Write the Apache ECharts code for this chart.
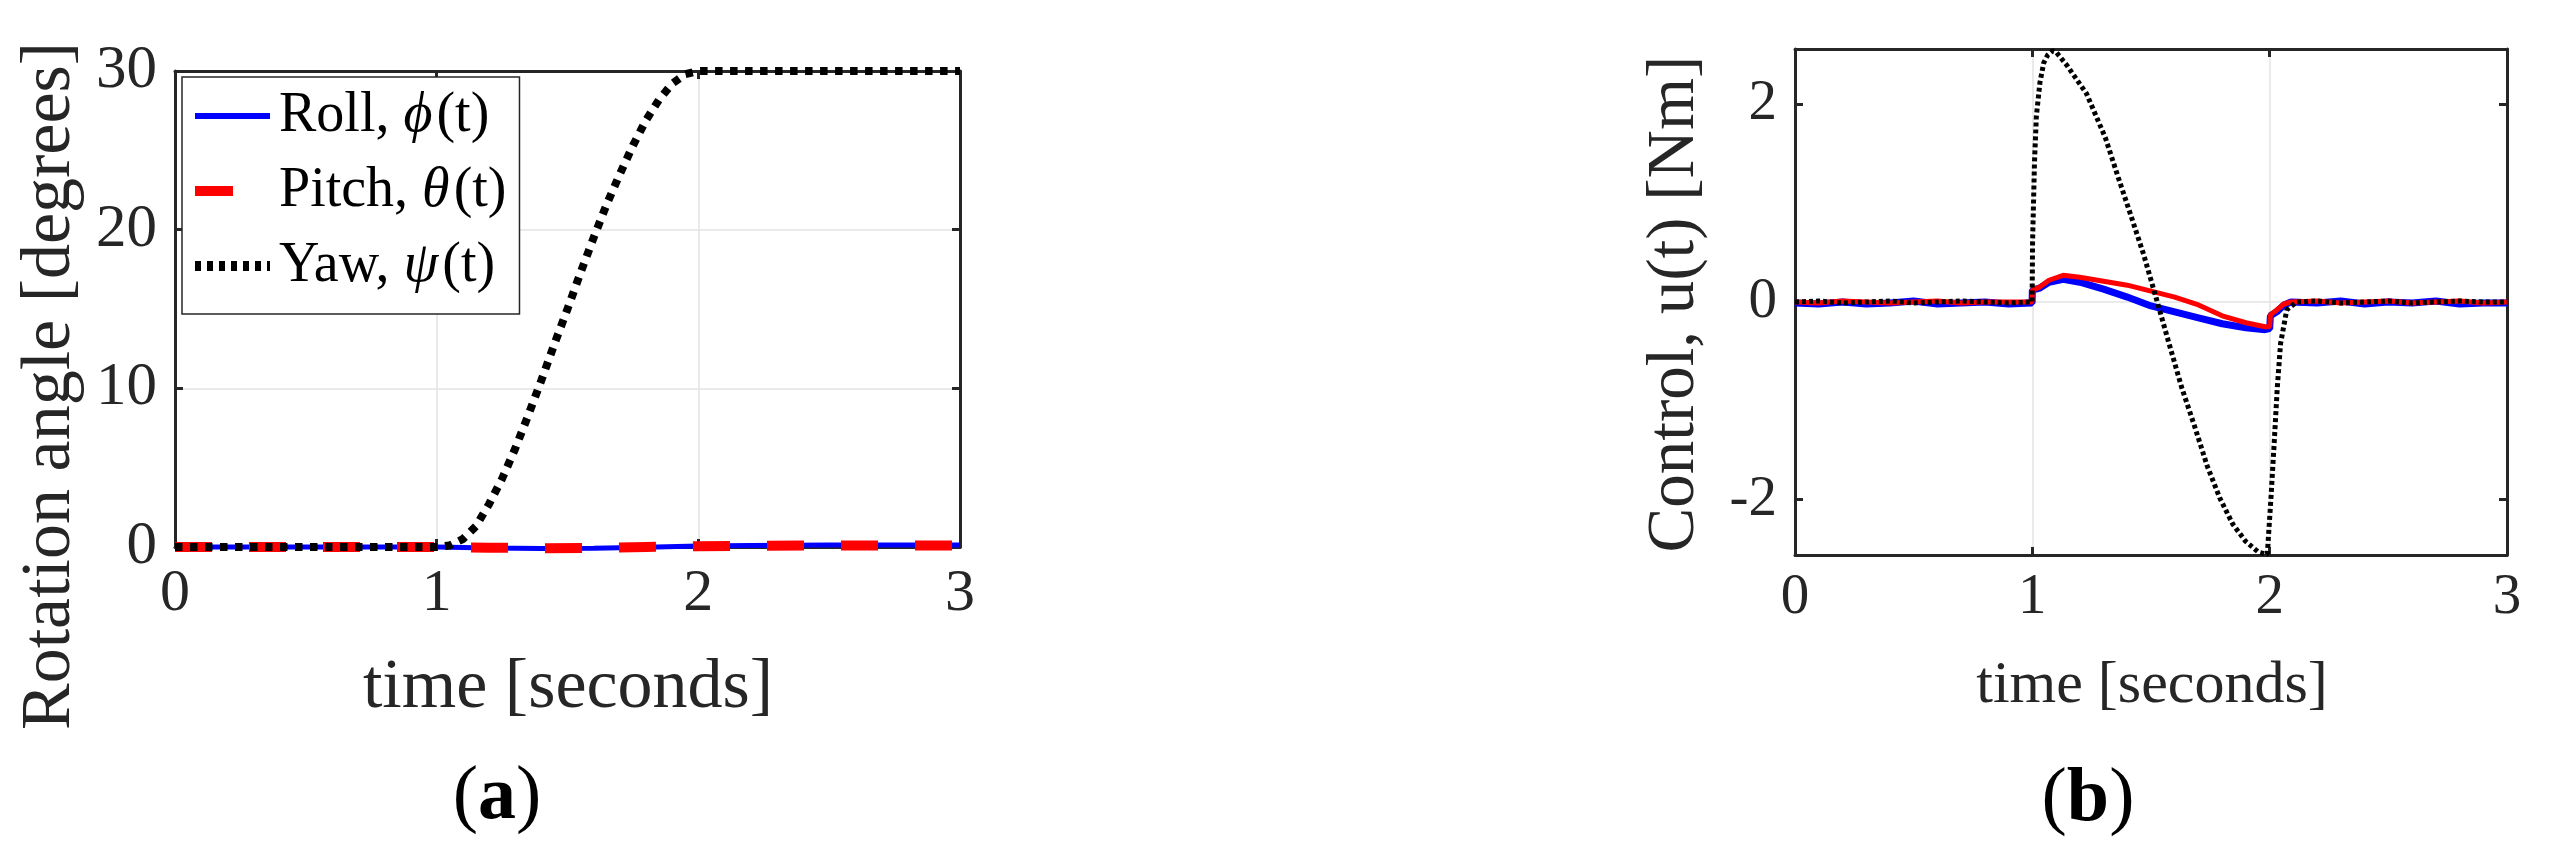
<!DOCTYPE html>
<html>
<head>
<meta charset="utf-8">
<script src="https://cdn.jsdelivr.net/npm/echarts@6/dist/echarts.min.js"></script>
<style>
html,body{margin:0;padding:0;background:#fff;}
#main{width:2556px;height:868px;}
</style>
</head>
<body>
<div id="main"></div>
<script>
// (a) rotation angles [degrees]
var rollT=[0,0.5,1.0,1.2,1.4,1.6,1.8,2.0,2.2,2.5,3.0];
var rollA=[0,0,0,-0.06,-0.1,-0.08,-0.02,0.06,0.1,0.12,0.12];
var pitchT=[0,0.5,1.0,1.2,1.4,1.6,1.8,2.0,2.2,2.5,3.0];
var pitchA=[0,0,0,-0.04,-0.08,-0.06,0,0.05,0.08,0.1,0.1];
var yawT=[0,1.0,1.05,1.1,1.15,1.2,1.25,1.3,1.35,1.4,1.45,1.5,1.55,1.6,1.65,1.7,1.75,1.8,1.85,1.9,1.95,2.0,3.0];
var yawA=[0,0,0.1,0.5,1.3,2.7,4.3,6.2,8.3,10.5,12.8,15.0,17.3,19.5,21.6,23.5,25.3,26.9,28.2,29.2,29.8,30,30];

// (b) control torques [Nm]
var uRollT=[0,0.1,0.2,0.3,0.4,0.5,0.6,0.7,0.8,0.9,0.999,1.0,1.03,1.07,1.13,1.2,1.3,1.4,1.5,1.6,1.7,1.8,1.9,1.98,2.0,2.003,2.03,2.06,2.09,2.2,2.3,2.4,2.5,2.6,2.7,2.8,2.9,3.0];
var uRoll=[-0.01,-0.02,0,-0.02,-0.01,0.01,-0.02,-0.01,0,-0.02,-0.01,0.12,0.14,0.2,0.23,0.2,0.13,0.05,-0.04,-0.1,-0.16,-0.22,-0.26,-0.28,-0.27,-0.14,-0.1,-0.03,0,-0.01,0.01,-0.02,0,-0.01,0.01,-0.02,-0.01,-0.01];
var uPitchT=[0,0.1,0.2,0.3,0.4,0.5,0.6,0.7,0.8,0.9,0.999,1.0,1.03,1.07,1.13,1.2,1.3,1.4,1.5,1.6,1.7,1.8,1.9,1.98,2.0,2.003,2.03,2.06,2.09,2.2,2.3,2.4,2.5,2.6,2.7,2.8,2.9,3.0];
var uPitch=[0,-0.01,0.01,0,-0.01,0,0.01,-0.01,0,0,0,0.12,0.15,0.22,0.27,0.25,0.21,0.17,0.11,0.05,-0.03,-0.14,-0.21,-0.25,-0.25,-0.13,-0.08,-0.02,0,0.01,-0.01,0,0.01,-0.01,0,0.01,-0.01,0];
var uYawT=[0,0.1,0.2,0.3,0.4,0.5,0.6,0.7,0.8,0.9,0.999,1.001,1.009,1.017,1.032,1.048,1.065,1.085,1.1,1.147,1.228,1.308,1.362,1.416,1.469,1.523,1.576,1.63,1.684,1.737,1.791,1.845,1.898,1.952,1.99,2.005,2.019,2.032,2.046,2.072,2.113,2.2,2.3,2.4,2.5,2.6,2.7,2.8,2.9,3.0];
var uYaw=[0,0.01,-0.01,0,0.01,-0.01,0,0.01,0,-0.01,0,0.6,1.41,1.88,2.22,2.42,2.5,2.54,2.53,2.39,2.11,1.66,1.26,0.87,0.48,0.03,-0.42,-0.87,-1.26,-1.66,-1.99,-2.25,-2.42,-2.53,-2.555,-2.0,-1.43,-0.87,-0.42,-0.08,0,0.01,-0.01,0,0.01,-0.01,0,0.01,0,0];

var yTicksB=[-2,0,2];

var FONT='Liberation Serif';
var INK='#262626';

function pairs(t,v){
	var out=[];
	for(var i=0;i<t.length;i++){
		out.push([t[i],v[i]]);
	}
	return out;
}

// plain axis used as a frame edge with inward ticks
function tickAxis(extra){
	var ax={
		axisLine:{show:true,onZero:false,lineStyle:{color:INK,width:3}},
		axisTick:{show:true,inside:true,length:8,lineStyle:{color:INK,width:3}},
		axisLabel:{show:false},
		splitLine:{show:false}
	};
	for(var k in extra){ax[k]=extra[k];}
	return ax;
}

var legendName={
	'Roll':'{n|Roll, }{g|\u03d5}{n|(t)}',
	'Pitch':'{n|Pitch, }{g|\u03b8}{n|(t)}',
	'Yaw':'{n|Yaw, }{g|\u03c8}{n|(t)}'
};

var gridLine={show:true,showMinLine:false,showMaxLine:false,lineStyle:{color:'#e3e3e3',width:1.5}};

var option={
	backgroundColor:'#fff',
	animation:false,
	grid:[
		{left:175,top:71,width:785,height:476},
		{left:1795,top:49,width:712,height:506}
	],
	legend:{
		data:[
			{name:'Roll',lineStyle:{color:'#0000ff',width:6,type:'solid'}},
			{name:'Pitch',lineStyle:{color:'#ff0000',width:10,type:[38,40]}},
			{name:'Yaw',lineStyle:{color:'#000',width:10,type:[6,6]}}
		],
		orient:'vertical',
		left:182,
		top:77,
		padding:[11,13,20,8],
		itemWidth:75,
		itemHeight:14,
		itemGap:19,
		itemStyle:{opacity:0},
		backgroundColor:'#fff',
		borderColor:INK,
		borderWidth:1.5,
		borderRadius:0,
		selectedMode:false,
		formatter:function(name){return legendName[name];},
		textStyle:{
			rich:{
				n:{fontFamily:FONT,fontSize:56,color:'#000',padding:[0,0,0,4]},
				g:{fontFamily:FONT,fontSize:56,fontStyle:'italic',color:'#000'}
			}
		}
	},
	xAxis:[
		tickAxis({type:'value',gridIndex:0,min:0,max:3,interval:1,position:'bottom',
			axisLabel:{show:true,margin:17,color:INK,fontFamily:FONT,fontSize:60},
			splitLine:gridLine}),
		tickAxis({type:'value',gridIndex:0,min:0,max:3,interval:1,position:'top'}),
		tickAxis({type:'value',gridIndex:1,min:0,max:3,interval:1,position:'bottom',
			axisLabel:{show:true,margin:15,color:INK,fontFamily:FONT,fontSize:57},
			splitLine:gridLine}),
		tickAxis({type:'value',gridIndex:1,min:0,max:3,interval:1,position:'top'})
	],
	yAxis:[
		tickAxis({type:'value',gridIndex:0,min:0,max:30,interval:10,position:'left',
			axisLabel:{show:true,margin:18,color:INK,fontFamily:FONT,fontSize:61},
			splitLine:gridLine}),
		tickAxis({type:'value',gridIndex:0,min:0,max:30,interval:10,position:'right'}),
		tickAxis({type:'value',gridIndex:1,min:-2.56,max:2.56,position:'left',
			axisTick:{show:true,inside:true,length:8,customValues:yTicksB,lineStyle:{color:INK,width:3}},
			axisLabel:{show:true,margin:18,customValues:yTicksB,color:INK,fontFamily:FONT,fontSize:57},
			splitLine:gridLine}),
		tickAxis({type:'value',gridIndex:1,min:-2.56,max:2.56,position:'right',
			axisTick:{show:true,inside:true,length:8,customValues:yTicksB,lineStyle:{color:INK,width:3}}})
	],
	series:[
		{name:'Roll',type:'line',xAxisIndex:0,yAxisIndex:0,symbol:'none',clip:false,
			data:pairs(rollT,rollA),lineStyle:{color:'#0000ff',width:5},itemStyle:{color:'#0000ff'}},
		{name:'Pitch',type:'line',xAxisIndex:0,yAxisIndex:0,symbol:'none',clip:false,
			data:pairs(pitchT,pitchA),lineStyle:{color:'#ff0000',width:10,type:[37,37]},itemStyle:{color:'#ff0000'}},
		{name:'Yaw',type:'line',xAxisIndex:0,yAxisIndex:0,symbol:'none',clip:false,
			data:pairs(yawT,yawA),lineStyle:{color:'#000',width:8,type:[7.5,7.5]},itemStyle:{color:'#000'}},
		{name:'u roll',type:'line',xAxisIndex:2,yAxisIndex:2,symbol:'none',
			data:pairs(uRollT,uRoll),lineStyle:{color:'#0000ff',width:7}},
		{name:'u pitch',type:'line',xAxisIndex:2,yAxisIndex:2,symbol:'none',
			data:pairs(uPitchT,uPitch),lineStyle:{color:'#ff0000',width:5}},
		{name:'u yaw',type:'line',xAxisIndex:2,yAxisIndex:2,symbol:'none',clip:false,
			data:pairs(uYawT,uYaw),lineStyle:{color:'#000',width:5,type:[4,3]}}
	],
	graphic:[
		{type:'text',x:51,y:386,rotation:Math.PI/2,
			style:{text:'Rotation angle [degrees]',fill:INK,font:'70px "Liberation Serif"',align:'center',verticalAlign:'middle'}},
		{type:'text',x:568,y:689,
			style:{text:'time [seconds]',fill:INK,font:'70px "Liberation Serif"',align:'center',verticalAlign:'middle'}},
		{type:'text',x:1675,y:304,rotation:Math.PI/2,
			style:{text:'Control, u(t) [Nm]',fill:INK,font:'67px "Liberation Serif"',align:'center',verticalAlign:'middle'}},
		{type:'text',x:2152,y:686,
			style:{text:'time [seconds]',fill:INK,font:'60px "Liberation Serif"',align:'center',verticalAlign:'middle'}},
		{type:'text',x:497,y:798,
			style:{text:'({b|a})',fill:'#000',font:'76px "Liberation Serif"',align:'center',verticalAlign:'middle',
				rich:{b:{fontFamily:FONT,fontSize:76,fontWeight:'bold',fill:'#000'}}}},
		{type:'text',x:2088,y:800,
			style:{text:'({b|b})',fill:'#000',font:'76px "Liberation Serif"',align:'center',verticalAlign:'middle',
				rich:{b:{fontFamily:FONT,fontSize:76,fontWeight:'bold',fill:'#000'}}}}
	]
};

var myChart=echarts.init(document.getElementById('main'));
myChart.setOption(option);
</script>
</body>
</html>
